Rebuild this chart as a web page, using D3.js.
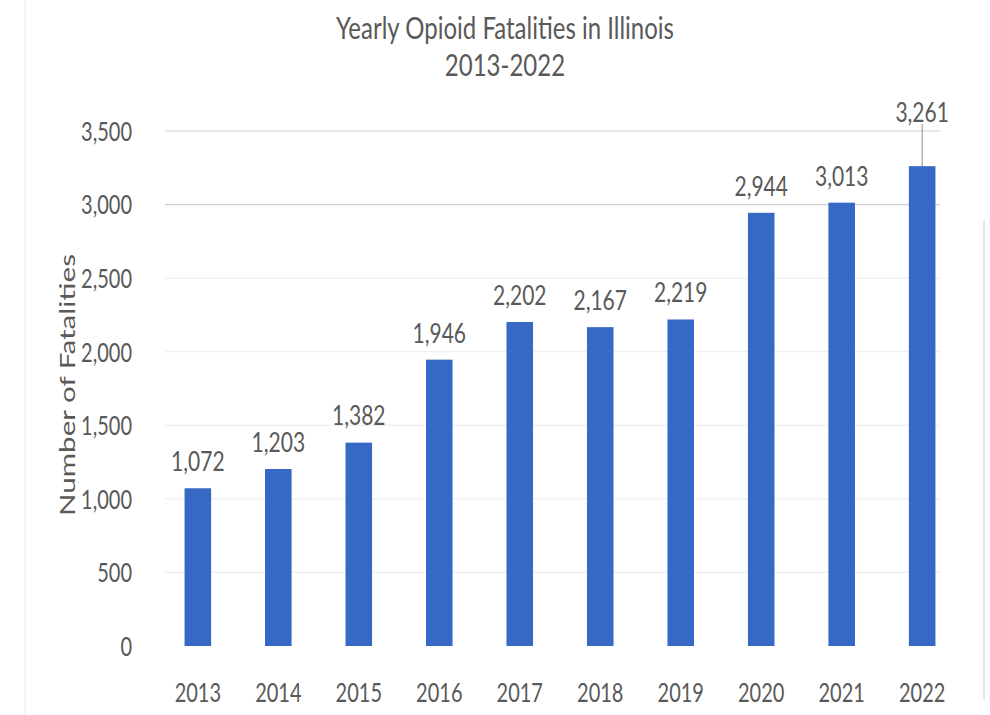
<!DOCTYPE html>
<html><head><meta charset="utf-8">
<script src="https://cdn.jsdelivr.net/npm/d3@7"></script>
<style>
html,body{margin:0;padding:0;background:#fff;}
text{font-family:Lato,"Open Sans",sans-serif;fill:#595959;}
</style></head>
<body>
<svg id="c" width="990" height="715"></svg>
<script>
const years = ["2013","2014","2015","2016","2017","2018","2019","2020","2021","2022"];
const fatalities = [1072,1203,1382,1946,2202,2167,2219,2944,3013,3261];
const yTicks = [0,500,1000,1500,2000,2500,3000,3500];
const titleLines = ["Yearly Opioid Fatalities in Illinois","2013-2022"];
const yLabel = "Number of Fatalities";

const svg = d3.select("#c");
const x = d3.scaleBand().domain(years).range([158,962]).paddingInner(0.67).paddingOuter(0.33);
const y = d3.scaleLinear().domain([0,3500]).range([646,131]);
const fmt = d3.format(",");
const SY = 1.3; // vertical stretch of text seen in the reference

// frame lines
svg.append("line").attr("x1",25).attr("x2",25).attr("y1",0).attr("y2",715).attr("stroke","#ececec");
svg.append("line").attr("x1",984).attr("x2",984).attr("y1",220).attr("y2",700).attr("stroke","#cfcfcf");

// gridlines
svg.append("g").selectAll("line").data(yTicks.filter(d=>d>0)).join("line")
  .attr("x1",165).attr("x2",940)
  .attr("y1",d=>y(d)).attr("y2",d=>y(d))
  .attr("stroke",d=>d>=3000?"#d0d0d0":"#efefef").attr("stroke-width",1.2);

// y axis
const ya = svg.append("g").attr("transform","translate(132,0)")
  .call(d3.axisLeft(y).tickValues(yTicks).tickFormat(fmt).tickSize(0).tickPadding(0));
ya.select(".domain").remove();
ya.selectAll("text").style("font-size","20px").attr("fill","#595959")
  .attr("dy","0.36em").attr("transform",`scale(1,${SY})`);

// x axis
const xa = svg.append("g").attr("transform","translate(0,693)")
  .call(d3.axisBottom(x).tickSize(0).tickPadding(0));
xa.select(".domain").remove();
xa.selectAll("text").style("font-size","20px").attr("fill","#595959")
  .attr("y",0).attr("dy","0.36em").attr("transform",`scale(1,${SY})`);

// bars
svg.append("g").selectAll("rect").data(years).join("rect")
  .attr("x",d=>x(d)).attr("width",x.bandwidth())
  .attr("y",(d,i)=>y(fatalities[i])).attr("height",(d,i)=>y(0)-y(fatalities[i]))
  .attr("fill","#3668c6");

// data labels
svg.append("g").selectAll("text").data(years).join("text")
  .attr("transform",(d,i)=>`translate(${x(d)+x.bandwidth()/2},${y(fatalities[i]) - (i===9?54:27)}) scale(1,${SY})`)
  .attr("dy","0.36em")
  .attr("text-anchor","middle").style("font-size","21px")
  .text((d,i)=>fmt(fatalities[i]));
// leader line for last label
svg.append("line")
  .attr("x1",x("2022")+x.bandwidth()/2).attr("x2",x("2022")+x.bandwidth()/2)
  .attr("y1",y(fatalities[9])-42).attr("y2",y(fatalities[9]))
  .attr("stroke","#8c8c8c").attr("stroke-width",1);

// title
svg.append("g").selectAll("text").data(titleLines).join("text")
  .attr("transform",(d,i)=>`translate(505,${28+i*37}) scale(1,${SY})`)
  .attr("dy","0.36em").attr("text-anchor","middle")
  .style("font-size","24px").text(d=>d);

// y label
svg.append("text").attr("transform","translate(75,385) rotate(-90)")
  .attr("text-anchor","middle").style("font-size","21px")
  .attr("textLength",262).attr("lengthAdjust","spacingAndGlyphs").text(yLabel);
</script>
</body></html>
